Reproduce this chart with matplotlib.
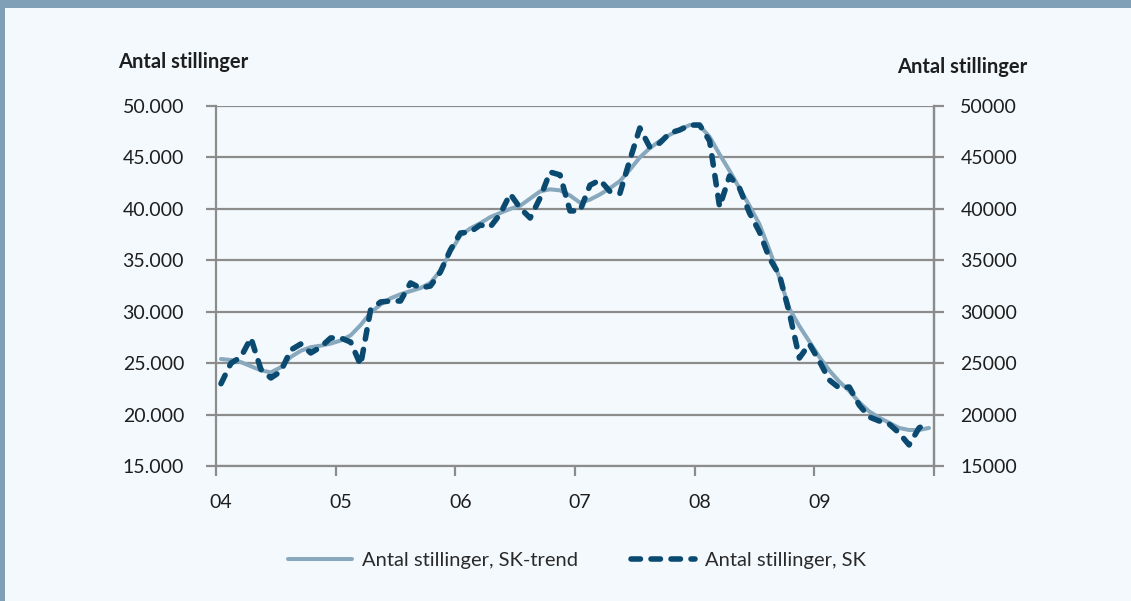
import matplotlib
matplotlib.use("Agg")
import matplotlib.pyplot as plt
from matplotlib.lines import Line2D
from matplotlib.patches import Rectangle
from matplotlib.ticker import FuncFormatter, FixedLocator

# Monthly data Jan 2004 - Dec 2009
sk = [23000, 25000, 25600, 27450, 24400, 23560, 24200, 26280, 26860, 25990, 26570, 27450,
      27450, 27050, 24820, 30170, 30950, 31040, 31040, 32800, 32300, 32500, 33860, 36000,
      37650, 37750, 38430, 38240, 39500, 41450, 40080, 39110, 41060, 43580, 43300, 39800,
      39800, 42300, 42800, 41700, 41500, 44750, 47860, 46000, 46400, 47370, 47670, 48150,
      48150, 46600, 40200, 43200, 42000, 39600, 37750, 35200, 33570, 29870, 25500, 26860,
      25200, 23360, 22580, 22680, 20930, 19770, 19380, 19080, 18210, 17050, 18700, 19280]
trend = [25400, 25300, 25100, 24700, 24300, 24100, 24600, 25600, 26200, 26550, 26700, 26900,
         27200, 27700, 28700, 29900, 30700, 31300, 31700, 32000, 32300, 32800, 34000, 35800,
         37400, 38100, 38600, 39200, 39600, 40000, 40300, 41000, 41700, 41900, 41800, 41300,
         40600, 40900, 41400, 42000, 42700, 43800, 45000, 45900, 46600, 47200, 47700, 48150,
         48100, 47000, 45300, 43700, 42000, 40300, 38500, 36000, 33300, 30300, 28600, 27100,
         25600, 24300, 23200, 22300, 21200, 20300, 19700, 19200, 18700, 18500, 18500, 18700]
year_labels = ["04", "05", "06", "07", "08", "09"]
y_ticks = [15000, 20000, 25000, 30000, 35000, 40000, 45000, 50000]
axis_title = "Antal stillinger"
series_names = ["Antal stillinger, SK-trend", "Antal stillinger, SK"]

BG = "#F4F9FD"
BORDER = "#7FA0B6"
GRID = "#8C8C8C"
TREND_C = "#87A8BD"
SK_C = "#0B4A70"
TXT = "#1E1E1E"

plt.rcParams['font.family'] = ['Lato', 'DejaVu Sans']

fig = plt.figure(figsize=(11.31, 6.01), dpi=100, facecolor=BG)
# frame borders
fig.patches.append(Rectangle((0, 1 - 8 / 601), 1, 8 / 601, transform=fig.transFigure,
                             facecolor=BORDER, edgecolor='none', zorder=0))
fig.patches.append(Rectangle((0, 0), 5 / 1131, 1, transform=fig.transFigure,
                             facecolor=BORDER, edgecolor='none', zorder=0))

ax = fig.add_axes([216 / 1131, 1 - 466 / 601, (934 - 216) / 1131, (466 - 106) / 601])
ax.set_facecolor(BG)
x = list(range(len(sk)))
ax.plot(x, trend, color=TREND_C, lw=2.9, solid_capstyle='round', zorder=3)
ax.plot(x, sk, color=SK_C, lw=4.0, linestyle=(0, (1.7, 1.9)), dash_capstyle='round', zorder=4)

ax.set_xlim(-0.5, len(sk) - 0.5)
ax.set_ylim(15000, 50000)
ax.set_yticks(y_ticks)
ax.yaxis.set_major_formatter(FuncFormatter(lambda v, p: f"{int(v):,}".replace(",", ".")))
ax.grid(axis='y', color=GRID, lw=1.6, zorder=1)
ax.set_axisbelow(True)

major = [-0.5 + 12 * k for k in range(len(year_labels) + 1)]
ax.xaxis.set_major_locator(FixedLocator(major))
ax.xaxis.set_major_formatter(FuncFormatter(lambda v, p: ""))
ax.xaxis.set_minor_locator(FixedLocator([12 * k for k in range(len(year_labels))]))
ax.set_xticklabels(year_labels, minor=True)
ax.tick_params(axis='x', which='major', length=7, width=1.6, color=GRID, direction='out')
ax.tick_params(axis='x', which='minor', length=0, pad=20, labelsize=14, labelcolor=TXT)
ax.tick_params(axis='y', length=7, width=1.6, color=GRID, labelsize=14, labelcolor=TXT, pad=16)

ax.spines['top'].set_visible(False)
for s in ['left', 'right', 'bottom']:
    ax.spines[s].set_color(GRID)
    ax.spines[s].set_linewidth(1.6)

ax2 = ax.twinx()
ax2.set_ylim(15000, 50000)
ax2.set_yticks(y_ticks)
ax2.yaxis.set_major_formatter(FuncFormatter(lambda v, p: f"{int(v)}"))
ax2.tick_params(axis='y', length=7, width=1.6, color=GRID, labelsize=14, labelcolor=TXT, pad=12)
for s in ['top', 'left', 'bottom']:
    ax2.spines[s].set_visible(False)
ax2.spines['right'].set_color(GRID)
ax2.spines['right'].set_linewidth(1.6)

fig.text(118 / 1131, 1 - 62 / 601, axis_title, fontsize=14.5, fontweight='bold', color=TXT,
         ha='left', va='center')
fig.text(1027 / 1131, 1 - 67 / 601, axis_title, fontsize=14.5, fontweight='bold', color=TXT,
         ha='right', va='center')

handles = [Line2D([], [], color=TREND_C, lw=2.9, solid_capstyle='round'),
           Line2D([], [], color=SK_C, lw=4.0, linestyle=(0, (1.7, 1.9)), dash_capstyle='round')]
leg = fig.legend(handles, series_names, loc='center', bbox_to_anchor=(577 / 1131, 1 - 560 / 601),
                 ncol=2, frameon=False, fontsize=14.5, handlelength=3.2, columnspacing=2.6,
                 handletextpad=0.5)
for t in leg.get_texts():
    t.set_color("#2A2A2A")

fig.savefig("out.png", dpi=100, facecolor=BG)
